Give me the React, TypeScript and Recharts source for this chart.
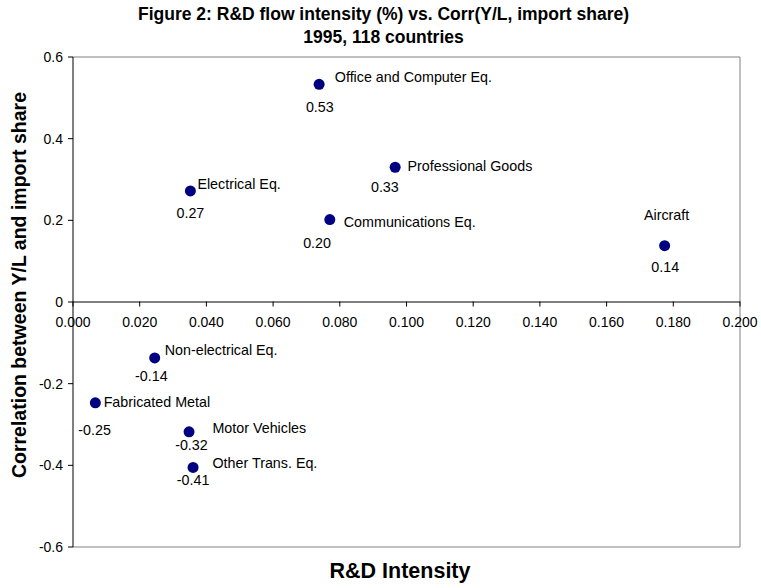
import React from "react";
import { ScatterChart, Scatter, XAxis, YAxis, ReferenceLine } from "recharts";

const sectors = [
  "Office and Computer Eq.",
  "Professional Goods",
  "Electrical Eq.",
  "Communications Eq.",
  "Aircraft",
  "Non-electrical Eq.",
  "Fabricated Metal",
  "Motor Vehicles",
  "Other Trans. Eq.",
];
const rdIntensity = [0.0738, 0.0966, 0.0352, 0.077, 0.1774, 0.0245, 0.0067, 0.0348, 0.036];
const correlation = [0.533, 0.33, 0.272, 0.202, 0.138, -0.137, -0.247, -0.318, -0.405];

const xTicks = [0, 0.02, 0.04, 0.06, 0.08, 0.1, 0.12, 0.14, 0.16, 0.18, 0.2];
const yTicks = [-0.6, -0.4, -0.2, 0, 0.2, 0.4, 0.6];
const X_DOMAIN: [number, number] = [0, 0.2];
const Y_DOMAIN: [number, number] = [-0.6, 0.6];

// label placement (style): [dx, dy, anchor] for name, [dx, dy] for value
const nameOffsets: [number, number, string][] = [
  [15.7, -7.6, "start"],
  [12.4, -1, "start"],
  [7, -7.4, "start"],
  [14, 2, "start"],
  [2, -30.7, "middle"],
  [10, -8.3, "start"],
  [8.3, -1, "start"],
  [23.4, -4, "start"],
  [19.4, -4, "start"],
];
const valueOffsets: [number, number][] = [
  [0.7, 23],
  [-10.3, 20],
  [0, 22.3],
  [-12.7, 23],
  [0.6, 21.6],
  [-3.3, 18.3],
  [-0.7, 26.7],
  [2.4, 12.7],
  [0, 12.7],
];

const data = sectors.map((name, i) => ({
  name,
  idx: i,
  x: rdIntensity[i],
  y: correlation[i],
}));

const W = 761;
const H = 588;
const M = { top: 57, right: 21, bottom: 40, left: 0 };
const Y_AXIS_W = 73;
const PLOT_TOP = M.top;
const PLOT_BOTTOM = H - M.bottom;
const FONT = "'Liberation Sans', Arial, sans-serif";
const LABEL_SIZE = 14.3;

const zeroShift =
  ((PLOT_BOTTOM - PLOT_TOP) * (0 - Y_DOMAIN[0])) / (Y_DOMAIN[1] - Y_DOMAIN[0]);

const XTick = (props: any) => {
  const { x, y, payload } = props;
  const y0 = y - zeroShift;
  return (
    <g>
      <line x1={x} x2={x} y1={y0} y2={y0 + 5} stroke="#000" strokeWidth={1} />
      <text
        x={x}
        y={y0 + 20}
        textAnchor="middle"
        dominantBaseline="central"
        fontFamily={FONT}
        fontSize={14}
        fill="#000"
      >
        {Number(payload.value).toFixed(3)}
      </text>
    </g>
  );
};

const PointShape = (props: any) => {
  const { cx, cy, payload } = props;
  const i = payload.idx;
  const [ndx, ndy, anchor] = nameOffsets[i];
  const [vdx, vdy] = valueOffsets[i];
  return (
    <g>
      <circle cx={cx} cy={cy} r={5.5} fill="#000080" />
      <text
        x={cx + ndx}
        y={cy + ndy}
        textAnchor={anchor as any}
        dominantBaseline="central"
        fontFamily={FONT}
        fontSize={LABEL_SIZE}
        fill="#000"
      >
        {payload.name}
      </text>
      <text
        x={cx + vdx}
        y={cy + vdy}
        textAnchor="middle"
        dominantBaseline="central"
        fontFamily={FONT}
        fontSize={LABEL_SIZE}
        fill="#000"
      >
        {Number(payload.y).toFixed(2)}
      </text>
    </g>
  );
};

export default function App() {
  return (
    <div style={{ position: "absolute", left: 0, top: 0, width: W, height: H, background: "#fff" }}>
      <ScatterChart width={W} height={H} margin={M}>
        <XAxis
          type="number"
          dataKey="x"
          domain={X_DOMAIN}
          ticks={xTicks}
          interval={0}
          axisLine={false}
          tickLine={false}
          tickSize={0}
          tickMargin={0}
          height={1}
          tick={<XTick />}
          allowDataOverflow
        />
        <YAxis
          type="number"
          dataKey="y"
          domain={Y_DOMAIN}
          ticks={yTicks}
          interval={0}
          width={Y_AXIS_W}
          axisLine={{ stroke: "#000" }}
          tickLine={{ stroke: "#000" }}
          tickSize={5}
          tickMargin={5}
          tick={{ fontFamily: FONT, fontSize: 14, fill: "#000" }}
          tickFormatter={(v: number) => (v === 0 ? "0" : v.toFixed(1))}
          allowDataOverflow
        />
        <ReferenceLine y={0.6} stroke="#808080" strokeWidth={1} />
        <ReferenceLine y={-0.6} stroke="#808080" strokeWidth={1} />
        <ReferenceLine x={0.2} stroke="#808080" strokeWidth={1} />
        <ReferenceLine y={0} stroke="#000" strokeWidth={1} />
        <Scatter data={data} shape={<PointShape />} isAnimationActive={false} />
        <text
          x={383.5}
          y={13.5}
          textAnchor="middle"
          dominantBaseline="central"
          fontFamily={FONT}
          fontSize={17.5}
          fontWeight="bold"
          fill="#000"
        >
          Figure 2: R&amp;D flow intensity (%) vs. Corr(Y/L, import share)
        </text>
        <text
          x={383.5}
          y={36.7}
          textAnchor="middle"
          dominantBaseline="central"
          fontFamily={FONT}
          fontSize={17.5}
          fontWeight="bold"
          fill="#000"
        >
          1995, 118 countries
        </text>
        <text
          x={400}
          y={571}
          textAnchor="middle"
          dominantBaseline="central"
          fontFamily={FONT}
          fontSize={21.5}
          fontWeight="bold"
          fill="#000"
        >
          R&amp;D Intensity
        </text>
        <text
          x={18.5}
          y={285}
          textAnchor="middle"
          dominantBaseline="central"
          fontFamily={FONT}
          fontSize={19.5}
          fontWeight="bold"
          fill="#000"
          transform="rotate(-90 18.5 285)"
        >
          Correlation between Y/L and import share
        </text>
      </ScatterChart>
    </div>
  );
}
